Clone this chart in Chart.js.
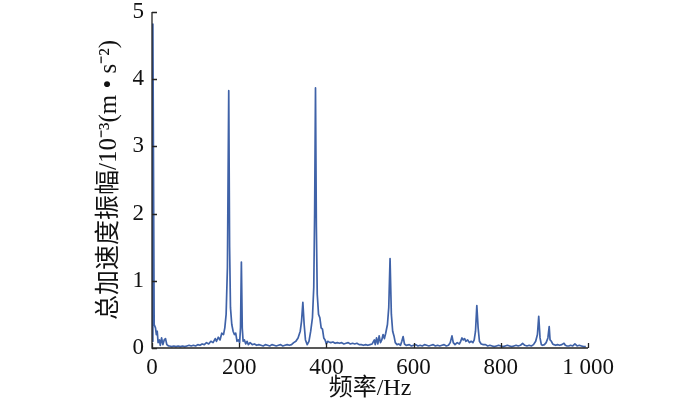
<!DOCTYPE html>
<html><head><meta charset="utf-8">
<script src="https://cdn.jsdelivr.net/npm/chart.js@4/dist/chart.umd.min.js"></script>
<style>html,body{margin:0;padding:0;background:#fff}#wrap{width:700px;height:405px}</style>
</head><body><div id="wrap"><canvas id="c" width="700" height="405"></canvas></div>
<script>
const freqHz = [0,2,5,8,10,12,14,17,19,22,25,28,31,34,38,40,45,50,55,60,65,70,75,80,85,90,95,100,105,110,115,120,125,130,135,140,145,148,152,156,160,164,167,170,173,176,178,180,183,186,189,192,195,198,201,203,205,207,209,212,215,218,221,225,230,235,240,245,250,255,260,265,270,275,280,285,290,295,300,305,310,315,320,325,330,335,340,343,346,349,352,356,360,364,368,371,373,375,377,379,382,385,388,391,394,397,400,403,406,410,415,420,425,430,435,440,445,450,455,460,465,470,475,480,485,490,495,500,505,510,512,515,518,521,524,527,530,533,536,540,543,546,549,552,555,558,562,566,570,573,576,579,583,590,595,600,605,610,615,620,625,630,635,640,645,650,655,660,665,670,675,680,684,688,691,695,700,705,708,711,714,717,720,724,728,732,736,739,742,745,748,751,755,760,765,770,775,780,785,790,795,800,805,810,815,820,825,830,835,840,845,850,855,860,865,870,875,880,884,887,890,893,896,900,904,908,911,913,916,919,922,926,930,935,940,945,948,952,956,960,965,970,975,980,985,990,995,1000];
const amplitude = [0.1,4.82,0.35,0.3,0.2,0.25,0.08,0.12,0.04,0.15,0.05,0.12,0.14,0.05,0.03,0.03,0.02,0.03,0.02,0.03,0.02,0.03,0.02,0.03,0.04,0.03,0.04,0.03,0.05,0.04,0.06,0.05,0.08,0.06,0.1,0.08,0.14,0.1,0.16,0.12,0.22,0.2,0.3,0.5,1.2,3.83,1.5,0.6,0.35,0.25,0.2,0.22,0.1,0.12,0.08,0.3,1.28,0.3,0.1,0.12,0.06,0.1,0.05,0.08,0.05,0.06,0.04,0.05,0.04,0.03,0.05,0.04,0.03,0.05,0.04,0.03,0.04,0.05,0.03,0.04,0.05,0.04,0.05,0.08,0.1,0.15,0.25,0.4,0.68,0.35,0.12,0.05,0.1,0.25,0.45,0.9,2.0,3.87,1.8,0.8,0.5,0.45,0.3,0.28,0.15,0.12,0.06,0.1,0.09,0.08,0.09,0.07,0.08,0.07,0.08,0.06,0.07,0.08,0.06,0.07,0.06,0.07,0.05,0.05,0.04,0.05,0.04,0.05,0.06,0.12,0.05,0.15,0.06,0.18,0.08,0.12,0.2,0.14,0.22,0.35,0.6,1.33,0.5,0.25,0.18,0.08,0.05,0.06,0.04,0.1,0.17,0.06,0.04,0.05,0.03,0.04,0.05,0.03,0.04,0.03,0.05,0.04,0.03,0.04,0.05,0.03,0.04,0.03,0.04,0.05,0.03,0.04,0.08,0.18,0.08,0.05,0.08,0.06,0.1,0.15,0.12,0.14,0.1,0.12,0.08,0.1,0.08,0.12,0.25,0.63,0.3,0.1,0.06,0.05,0.05,0.03,0.04,0.03,0.02,0.03,0.04,0.03,0.02,0.03,0.04,0.03,0.02,0.03,0.04,0.03,0.04,0.07,0.04,0.03,0.04,0.03,0.05,0.1,0.2,0.47,0.15,0.05,0.04,0.05,0.08,0.15,0.32,0.12,0.1,0.06,0.05,0.04,0.05,0.04,0.05,0.07,0.04,0.03,0.03,0.04,0.03,0.06,0.03,0.04,0.03,0.02,0.02];
const xTickValues = [0,200,400,600,800,1000];
const yTickValues = [0,1,2,3,4,5];

const inwardTicks = {
  id: 'inwardTicks',
  afterDraw(chart) {
    const ctx = chart.ctx, xs = chart.scales.x, ys = chart.scales.y;
    ctx.save();
    ctx.strokeStyle = '#222';
    ctx.lineWidth = 1.3;
    ctx.beginPath();
    ctx.moveTo(xs.left, ys.top); ctx.lineTo(xs.left, ys.bottom); ctx.lineTo(xs.right, ys.bottom);
    xTickValues.forEach(v => { const p = Math.round(xs.getPixelForValue(v)) + 0.5; ctx.moveTo(p, ys.bottom); ctx.lineTo(p, ys.bottom - 5); });
    yTickValues.forEach(v => { const p = Math.round(ys.getPixelForValue(v)) + 0.5; ctx.moveTo(xs.left, p); ctx.lineTo(xs.left + 5, p); });
    ctx.stroke();
    ctx.restore();
  }
};

const serif = "'Liberation Serif','Noto Sans CJK SC'";
new Chart(document.getElementById('c'), {
  type: 'scatter',
  data: { datasets: [{ data: freqHz.map((f, i) => ({ x: f, y: amplitude[i] })), showLine: true, borderColor: '#3f62a8', borderWidth: 1.7, borderJoinStyle: 'round', pointRadius: 0, tension: 0 }] },
  options: {
    responsive: false, animation: false,
    layout: { padding: { top: 0, right: 112, left: 90, bottom: 0 } },
    plugins: { legend: { display: false }, tooltip: { enabled: false } },
    scales: {
      x: {
        type: 'linear', min: 0, max: 1000,
        afterBuildTicks: s => { s.ticks = xTickValues.map(v => ({ value: v })); },
        afterFit: s => { s.height = 57; },
        grid: { display: false, drawTicks: false }, border: { display: false },
        ticks: { color: '#111', font: { family: serif, size: 23 }, padding: 6, maxRotation: 0,
          callback: v => v === 1000 ? '1 000' : String(v) },
        title: { display: true, text: '频率/Hz', color: '#111', font: { family: serif, size: 24 }, padding: { top: 0, bottom: 2 } }
      },
      y: {
        min: 0, max: 5,
        afterBuildTicks: s => { s.ticks = yTickValues.map(v => ({ value: v })); },
        afterFit: s => { s.width = 62; },
        grid: { display: false, drawTicks: false }, border: { display: false },
        ticks: { color: '#111', font: { family: serif, size: 23, lineHeight: 0.35 }, padding: 8 },
        title: { display: true, text: '总加速度振幅/10⁻³(m • s⁻²)', color: '#111', font: { family: serif, size: 25 }, padding: { bottom: 4 } }
      }
    }
  },
  plugins: [inwardTicks]
});
</script></body></html>
